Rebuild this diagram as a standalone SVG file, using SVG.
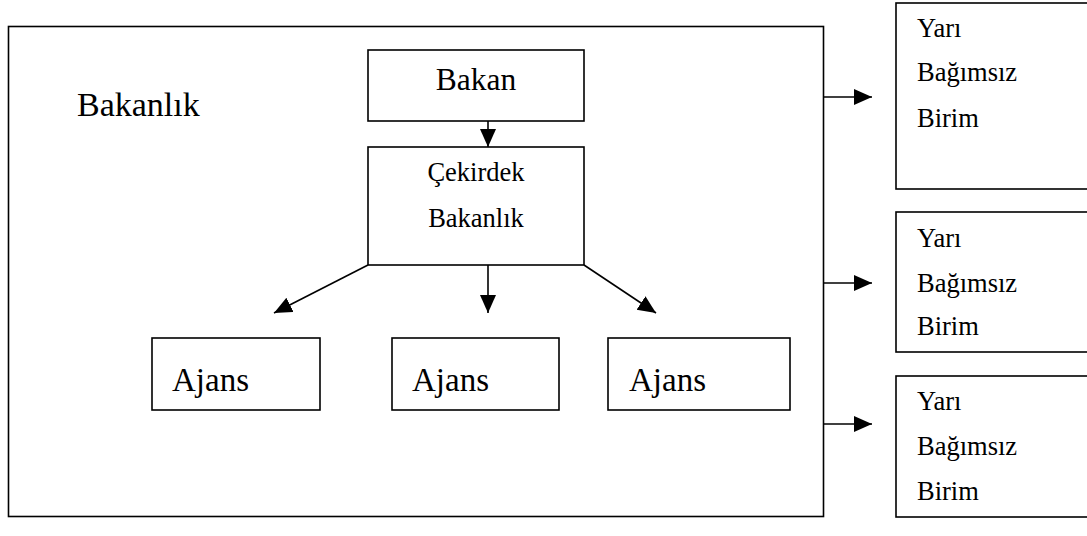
<svg xmlns="http://www.w3.org/2000/svg" width="1087" height="536" viewBox="0 0 1087 536">
  <style>
    .box { fill: #ffffff; stroke: #000000; stroke-width: 1.6; }
    .frame { fill: none; stroke: #000000; stroke-width: 1.6; }
    .conn { stroke: #000000; stroke-width: 1.6; fill: none; marker-end: url(#arrow); }
  </style>
  <defs>
    <marker id="arrow" markerUnits="userSpaceOnUse" markerWidth="19" markerHeight="17" refX="18" refY="8" orient="auto">
      <path d="M0,0 L18,8 L0,16 z" fill="#000000"/>
    </marker>
  </defs>
  <rect width="1087" height="536" fill="#ffffff"/>

  <g font-family="'Liberation Serif', Tinos, 'Times New Roman', 'DejaVu Serif', serif" fill="#000000">
    <!-- ministry frame -->
    <g id="bakanlik">
      <rect class="frame" x="8.5" y="26.5" width="815" height="490"/>
      <text x="77" y="116" font-size="34">Bakanlık</text>
    </g>

    <g id="bakan">
      <rect class="box" x="368" y="50" width="216" height="71"/>
      <text x="476" y="90" font-size="31.5" text-anchor="middle">Bakan</text>
    </g>

    <g id="cekirdek">
      <rect class="box" x="368" y="147" width="216" height="118"/>
      <text x="476" y="181" font-size="26.5" text-anchor="middle">Çekirdek</text>
      <text x="476" y="227" font-size="26.5" text-anchor="middle">Bakanlık</text>
    </g>

    <g id="ajans1">
      <rect class="box" x="152" y="338" width="168" height="72"/>
      <text x="172" y="391" font-size="33">Ajans</text>
    </g>
    <g id="ajans2">
      <rect class="box" x="392" y="338" width="167" height="72"/>
      <text x="412" y="391" font-size="33">Ajans</text>
    </g>
    <g id="ajans3">
      <rect class="box" x="608" y="338" width="182" height="72"/>
      <text x="629" y="391" font-size="33">Ajans</text>
    </g>

    <g id="birim1">
      <rect class="box" x="896" y="3" width="200" height="186"/>
      <text x="917" y="37" font-size="26.5">Yarı</text>
      <text x="917" y="81" font-size="26.5">Bağımsız</text>
      <text x="917" y="127" font-size="26.5">Birim</text>
    </g>
    <g id="birim2">
      <rect class="box" x="896" y="212" width="200" height="140"/>
      <text x="917" y="247" font-size="26.5">Yarı</text>
      <text x="917" y="292" font-size="26.5">Bağımsız</text>
      <text x="917" y="335" font-size="26.5">Birim</text>
    </g>
    <g id="birim3">
      <rect class="box" x="896" y="376" width="200" height="141"/>
      <text x="917" y="410" font-size="26.5">Yarı</text>
      <text x="917" y="455" font-size="26.5">Bağımsız</text>
      <text x="917" y="500" font-size="26.5">Birim</text>
    </g>
  </g>

  <g id="connectors">
    <line class="conn" x1="488" y1="121" x2="488" y2="147"/>
    <line class="conn" x1="368" y1="265" x2="274" y2="313"/>
    <line class="conn" x1="488" y1="265" x2="488" y2="313"/>
    <line class="conn" x1="584" y1="265" x2="656" y2="313"/>
    <line class="conn" x1="824" y1="97" x2="872" y2="97"/>
    <line class="conn" x1="824" y1="283" x2="872" y2="283"/>
    <line class="conn" x1="824" y1="424" x2="872" y2="424"/>
  </g>
</svg>
